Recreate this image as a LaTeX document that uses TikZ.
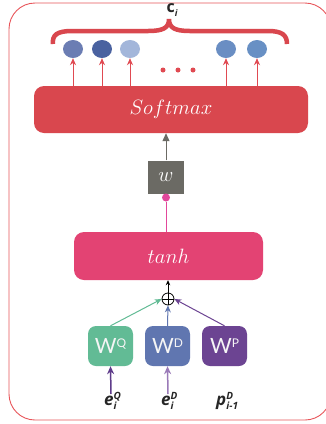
\documentclass[tikz,border=0pt]{standalone}
\usepackage{fontspec}
\usetikzlibrary{arrows.meta,shapes.geometric}
\newfontfamily\labfont{Open Sans}
\newfontfamily\wfont{Lato}
\definecolor{frame}{HTML}{E8555A}
\definecolor{smred}{HTML}{D9474E}
\definecolor{arred}{HTML}{E04A52}
\definecolor{wgray}{HTML}{6B6A64}
\definecolor{pinkd}{HTML}{E2479B}
\definecolor{tanhc}{HTML}{E34373}
\definecolor{wq}{HTML}{62BB95}
\definecolor{wd}{HTML}{6076B0}
\definecolor{wp}{HTML}{6C4492}
\definecolor{inq}{HTML}{5E3B8A}
\definecolor{ind}{HTML}{9A7AB8}
\definecolor{c1}{HTML}{6B7DB3}
\definecolor{c2}{HTML}{4A62A0}
\definecolor{c3}{HTML}{A3B6DA}
\definecolor{c4}{HTML}{6A8EC3}
\definecolor{c5}{HTML}{6890C4}
\newcommand{\supsub}[3]{#1\rlap{\raisebox{6pt}{\fontsize{10}{10}\selectfont\itshape #2}}\raisebox{-4pt}{\fontsize{10}{10}\selectfont\itshape #3}}
\tikzset{
  bigbox/.style={rounded corners=10pt, inner sep=0pt, text=white},
  wbox/.style={rounded corners=8pt, minimum width=45pt, minimum height=40pt, inner sep=0pt, text=white!92!gray, font=\wfont\fontsize{21}{21}\selectfont},
  cell/.style={ellipse, minimum width=20pt, minimum height=18pt, inner sep=0pt},
  redarr/.style={draw=arred, line width=0.9pt, -{Stealth[length=7pt,width=6pt]}},
  dotc/.style={circle, fill=arred, minimum size=5pt, inner sep=0pt},
  lab/.style={font=\labfont\bfseries\fontsize{17}{17}\selectfont, text=black!85, inner sep=0pt},
}
\begin{document}
\begin{tikzpicture}[x=1pt, y=-1pt]
\clip (0,0) rectangle (326,424);
\useasboundingbox (0,0) rectangle (326,424);
\fill[white] (0,0) rectangle (326,424);
% outer frame
\draw[frame, line width=0.9pt, rounded corners=26pt] (9,3) rectangle (331,420);
% brace
\draw[smred, line width=4.5pt]
  (53,44) .. controls (52,35) and (57,31) .. (72,31) -- (148,31)
  .. controls (163,31) and (169,28) .. (169,19)
  .. controls (169,28) and (175,31) .. (190,31) -- (268,31)
  .. controls (282,31) and (287,35) .. (287,44);
\node[font=\labfont\bfseries\fontsize{16}{16}\selectfont, text=black!85, inner sep=0pt] (ci) at (172,10) {c\raisebox{-4pt}{\fontsize{9}{9}\selectfont\itshape i}};
% softmax
\node[bigbox, fill=smred, minimum width=274pt, minimum height=47pt] (sm) at (171,109.5)
  {\fontsize{21}{21}\selectfont$Softmax$};
% cells
\node[cell, fill=c1] (e1) at (73,49) {};
\node[cell, fill=c2] (e2) at (102,49) {};
\node[cell, fill=c3] (e3) at (130,49) {};
\node[cell, fill=c4] (e4) at (226,49) {};
\node[cell, fill=c5] (e5) at (257,49) {};
\node[dotc] (d1) at (163,70) {};
\node[dotc] (d2) at (178,70) {};
\node[dotc] (d3) at (193,70) {};
\foreach \n in {e1,e2,e3,e4,e5}{
  \draw[redarr] (sm.north -| \n) -- (\n.south);
}
% w
\node[fill=wgray, minimum width=36pt, minimum height=33pt, inner sep=0pt, text=white] (w) at (166,177)
  {\fontsize{20}{20}\selectfont$w$};
\draw[wgray, line width=1pt, -{Triangle[length=8pt,width=7pt]}] (w.north) -- (sm.south -| w.north);
\node[circle, fill=pinkd, minimum size=8pt, inner sep=0pt] (pd) at (166,197.5) {};
% tanh
\node[bigbox, fill=tanhc, minimum width=189pt, minimum height=48pt] (th) at (168.5,256)
  {\fontsize{20}{20}\selectfont$tanh$};
\draw[pinkd, line width=1pt] (pd) -- (th.north -| pd);
% oplus
\node[circle, draw=black, line width=0.8pt, minimum size=12pt, inner sep=0pt] (op) at (168,299) {};
\draw[black, line width=0.6pt] (op.north) -- (op.south) (op.west) -- (op.east);
\draw[black, line width=0.8pt, -{Stealth[length=5pt,width=4.5pt]}] (op.north) -- (th.south -| op.north);
% W boxes
\node[wbox, fill=wq] (WQ) at (110.5,346) {W\raisebox{6pt}{\fontsize{12}{12}\selectfont Q}};
\node[wbox, fill=wd] (WD) at (167.5,346) {W\raisebox{6pt}{\fontsize{12}{12}\selectfont D}};
\node[wbox, fill=wp] (WP) at (224.5,346) {W\raisebox{6pt}{\fontsize{12}{12}\selectfont P}};
\draw[wq, line width=1pt, -{Stealth[length=7pt,width=6pt]}] (WQ.north) -- (op.west);
\draw[wd, line width=1pt, -{Stealth[length=7pt,width=6pt]}] (WD.north) -- (op.south);
\draw[wp, line width=1pt, -{Stealth[length=7pt,width=6pt]}] (WP.north) -- (op.east);
% inputs
\node[lab, anchor=base west] (xq) at (104,405) {\supsub{\textit{e}}{Q}{i}};
\node[lab, anchor=base west] (xd) at (161,405) {\supsub{\textit{e}}{D}{i}};
\node[lab, anchor=base west] (xp) at (216,405) {\supsub{\textit{p}}{D}{i-1}};
\coordinate (iq) at (111,394);
\coordinate (id) at (168,394);
\draw[inq, line width=1.5pt, -{Stealth[length=8pt,width=7pt]}] (iq) -- (WQ.south);
\draw[ind, line width=1.5pt, -{Stealth[length=8pt,width=7pt]}] (id) -- (WD.south);
\end{tikzpicture}
\end{document}
